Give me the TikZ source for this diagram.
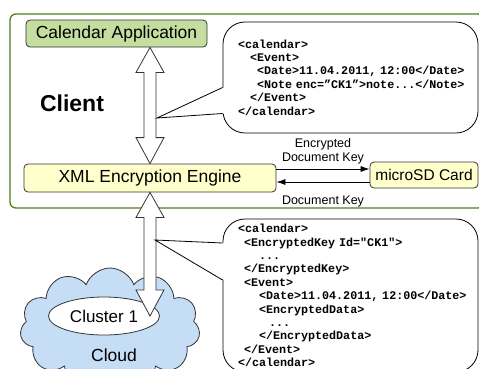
\documentclass[tikz,border=0pt]{standalone}
\usepackage{fontspec}
\setmainfont{Liberation Sans}
\setmonofont{Liberation Mono}
\usetikzlibrary{shapes.geometric,shapes.symbols,arrows.meta,calc}
\definecolor{appgreen}{HTML}{C3DE9F}
\definecolor{engineyellow}{HTML}{FFFFCC}
\definecolor{framegreen}{HTML}{4E7F1A}
\definecolor{cloudblue}{HTML}{C6DDF6}
\definecolor{edgegray}{HTML}{333333}
\tikzset{
  box/.style={
    rectangle,
    rounded corners=4pt,
    draw=edgegray,
    line width=0.8pt,
    inner sep=0pt,
    font=\fontsize{17.5}{20}\selectfont
  },
  xmlbox/.style={
    rectangle,
    rounded corners=22pt,
    draw=black,
    fill=white,
    line width=0.8pt,
    inner xsep=15pt,
    inner ysep=0pt,
    text width=225pt,
    minimum width=255pt,
    align=left,
    font=\ttfamily\bfseries\fontsize{11.7}{13.4}\selectfont
  },
  fatarrow/.style={draw=edgegray, fill=white, line width=0.8pt, line join=miter},
  keyarrow/.style={-{Latex[length=9pt,width=6pt]}, line width=0.8pt},
  keylabel/.style={font=\fontsize{12.5}{14}\selectfont, align=center, inner sep=2pt}
}
\newcommand{\fatlink}[2]{%
  \draw[fatarrow] let \p1=#1, \p2=#2 in
    (\x1,\y1) -- (\x1+14pt,\y1-25pt) -- (\x1+6pt,\y1-25pt) -- (\x1+6pt,\y2+26pt)
    -- (\x1+14pt,\y2+26pt) -- (\x1,\y2) -- (\x1-14pt,\y2+26pt) -- (\x1-6pt,\y2+26pt)
    -- (\x1-6pt,\y1-25pt) -- (\x1-14pt,\y1-25pt) -- cycle;}

\begin{document}
\begin{tikzpicture}[x=1pt,y=-1pt]
    \useasboundingbox (0,0) rectangle (479,368);
    \draw[framegreen, line width=1.3pt, rounded corners=6pt] (10,14) rectangle (484,208);

    \node[box,fill=appgreen,minimum width=181pt,minimum height=27pt] (calapp) at (116.5,33.5) {Calendar Application};
    \node[box,fill=engineyellow,minimum width=252pt,minimum height=28pt] (engine) at (150,178) {XML Encryption Engine};
    \node[box,fill=engineyellow,minimum width=108pt,minimum height=26pt,font=\fontsize{15.5}{18}\selectfont] (sdcard) at (424,175) {microSD Card};
    \node[font=\bfseries\fontsize{23}{26}\selectfont] (client) at (72,103) {Client};

    \node[cloud,cloud puffs=11,cloud puff arc=140,draw=edgegray,fill=cloudblue,line width=0.8pt,minimum width=180pt,minimum height=120pt,inner sep=0pt] (cloud) at (110,328) {};
    \node[ellipse,draw=edgegray,fill=white,line width=0.8pt,minimum width=111pt,minimum height=38pt,inner sep=0pt,font=\fontsize{17}{20}\selectfont] (cluster) at (104,316) {Cluster 1};
    \node[font=\fontsize{17.5}{20}\selectfont] (cloudlabel) at (114,355) {Cloud};

    \fatlink{(engine.north |- calapp.south)}{(engine.north)}
    \fatlink{(engine.south)}{(engine.south |- cluster.center)}

    \draw[keyarrow] ([yshift=6pt]sdcard.west -| engine.east) -- ([yshift=6pt]sdcard.west)
        node[keylabel,midway,above=3pt] (enckey) {Encrypted\\Document Key};
    \draw[keyarrow] ([yshift=-7pt]sdcard.west) -- ([yshift=-7pt]sdcard.west -| engine.east)
        node[keylabel,midway,below=11pt] (plainkey) {Document Key};

    \node[xmlbox,minimum height=111pt] (xml1) at (350.5,77.5) {<calendar>\\
      \hspace*{12pt}<Event>\\
      \hspace*{19pt}<Date>11.04.2011,~12:00</Date>\\
      \hspace*{19pt}<Note~enc=”CK1”>note...</Note>\\
      \hspace*{12pt}</Event>\\
      </calendar>};
    \coordinate (tip1) at (157,118);
    \fill[white] (tip1) -- ($(xml1.west)+(1.5,10)$) -- ($(xml1.west)+(1.5,36)$) -- cycle;
    \draw[line width=0.8pt] ($(xml1.west)+(0,10)$) -- (tip1) -- ($(xml1.west)+(0,36)$);

    \node[xmlbox,minimum height=153pt] (xml2) at (350.5,295.5) {<calendar>\\
      \hspace*{6pt}<EncryptedKey~Id="CK1">\\
      \hspace*{21pt}...\\
      \hspace*{6pt}</EncryptedKey>\\
      \hspace*{6pt}<Event>\\
      \hspace*{21pt}<Date>11.04.2011,~12:00</Date>\\
      \hspace*{21pt}<EncryptedData>\\
      \hspace*{31pt}...\\
      \hspace*{21pt}</EncryptedData>\\
      \hspace*{6pt}</Event>\\
      </calendar>};
    \coordinate (tip2) at (155,240);
    \fill[white] (tip2) -- ($(xml2.west)+(1.5,-52.5)$) -- ($(xml2.west)+(1.5,-15.5)$) -- cycle;
    \draw[line width=0.8pt] ($(xml2.west)+(0,-52.5)$) -- (tip2) -- ($(xml2.west)+(0,-15.5)$);
\end{tikzpicture}
\end{document}
